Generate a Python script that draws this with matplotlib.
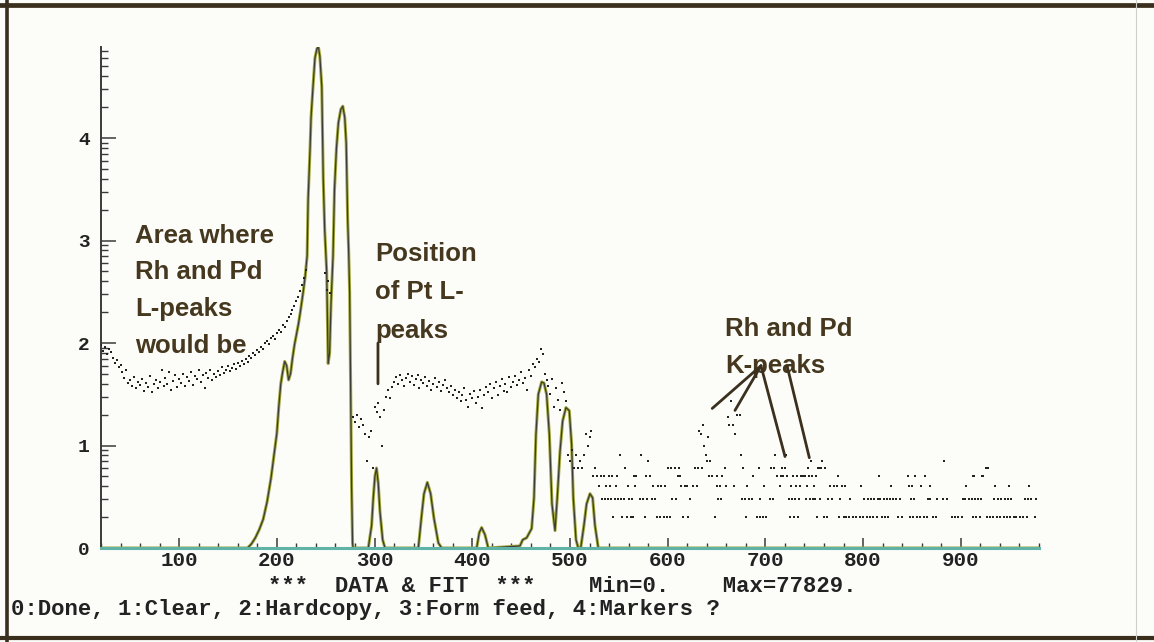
import numpy as np
import matplotlib
matplotlib.use("Agg")
import matplotlib.pyplot as plt
from matplotlib.lines import Line2D
from matplotlib.ticker import MultipleLocator, FixedLocator, FixedFormatter, StrMethodFormatter

# measured spectrum, every 2nd channel from 20 to 230
low_start = 20
low_counts = [96, 84, 92, 79, 88, 81, 71, 64, 68, 58,
              61, 52, 46, 55, 41, 44, 38, 47, 36, 42,
              39, 45, 34, 41, 37, 48, 33, 40, 44, 36,
              42, 55, 38, 46, 40, 52, 35, 43, 49, 37,
              45, 41, 50, 38, 47, 43, 52, 39, 48, 45,
              54, 42, 49, 36, 51, 46, 55, 44, 50, 47,
              53, 49, 58, 51, 55, 60, 53, 57, 62, 56,
              64, 60, 67, 63, 70, 66, 74, 71, 80, 76,
              86, 82, 92, 88, 99, 104, 97, 112, 118, 109,
              126, 135, 128, 150, 142, 165, 178, 190, 210, 232,
              255, 280, 320, 365, 430, 520]

# between the two big L lines
dip_ch = [249, 251, 252, 254]
dip_counts = [480, 330, 400, 310]

# every 2nd channel from 278 to 530
mid_start = 278
mid_counts = [19, 17, 20, 15, 18, 16, 13, 7, 12, 14,
              6, 24, 21, 26, 19, 10, 22, 30, 35, 29,
              37, 42, 47, 40, 49, 44, 38, 46, 50, 42,
              48, 39, 45, 49, 36, 44, 41, 47, 38, 43,
              35, 40, 46, 37, 42, 34, 39, 44, 36, 33,
              38, 31, 35, 29, 33, 27, 31, 36, 28, 24,
              32, 29, 34, 26, 30, 35, 23, 31, 37, 33,
              40, 29, 36, 42, 31, 38, 45, 34, 40, 33,
              47, 37, 42, 48, 39, 44, 52, 41, 46, 35,
              55, 48, 62, 58, 70, 66, 88, 79, 50, 44,
              38, 32, 45, 24, 36, 28, 22, 41, 33, 27,
              8, 7, 9, 6, 8, 6, 7, 6, 8, 13,
              10, 12, 14, 5, 6, 5, 4]

# high-energy tail: channels holding N counts (0 and 1 sit on the baseline)
tail_ch_2 = [544, 553, 558, 562, 565, 577, 589, 592, 596, 599, 602, 616, 621, 648,
             680, 691, 695, 698, 701, 725, 729, 733, 753, 760, 763, 775, 780, 783,
             786, 790, 793, 797, 800, 804, 807, 810, 814, 819, 822, 826, 836, 840,
             848, 851, 855, 858, 862, 865, 872, 875, 891, 894, 897, 901, 913, 916,
             920, 927, 930, 933, 937, 940, 944, 947, 950, 954, 957, 961, 964, 968, 976]
tail_ch_3 = [533, 536, 539, 542, 546, 549, 552, 555, 560, 563, 572, 575, 579, 584,
             587, 604, 609, 623, 652, 655, 676, 679, 683, 686, 694, 705, 708, 724,
             727, 730, 734, 742, 746, 749, 751, 756, 764, 768, 776, 787, 801, 805,
             808, 811, 815, 817, 821, 824, 828, 831, 834, 838, 849, 852, 866, 868,
             876, 882, 886, 902, 904, 908, 911, 915, 918, 921, 934, 938, 941, 945,
             948, 951, 966, 969, 972, 977]
tail_ch_4 = [537, 541, 547, 559, 567, 585, 590, 593, 597, 614, 618, 620, 626, 630,
             650, 654, 660, 668, 681, 699, 715, 726, 731, 735, 743, 750, 766, 770,
             773, 778, 782, 798, 829, 847, 850, 859, 869, 905, 935, 949, 970]
tail_ch_5 = [532, 535, 540, 543, 548, 566, 568, 578, 582, 611, 613, 642, 645, 651,
             656, 687, 712, 716, 718, 722, 728, 732, 736, 739, 741, 745, 748, 752,
             774, 816, 846, 853, 863, 912, 914, 922, 923]
tail_ch_6 = [556, 600, 603, 608, 612, 628, 631, 635, 659, 677, 693, 706, 709, 717,
             720, 744, 754, 755, 757, 761, 926, 928]
tail_ch_7 = [580, 643, 747, 758, 883]
tail_ch_8 = [551, 573, 675, 710, 721]

# Rh / Pd K region
k_ch = [632, 634, 636, 637, 639, 640, 641, 662, 663, 665, 667, 669, 671, 674]
k_counts = [14, 13, 16, 10, 8, 7, 12, 19, 16, 27, 16, 13, 20, 20]

# fitted spectrum, in decades (log10 counts)
fit_ch = [20, 170, 174, 178, 182, 186, 190, 194, 197, 200, 202, 204, 206, 208, 210,
          212, 214, 216, 218, 220, 222, 224, 227, 229, 231, 232, 234, 235, 237, 239,
          241, 242.5, 244, 246, 247.5, 249, 251, 252.5, 254, 255.5, 257.5, 259, 261,
          263, 265.5, 267.5, 269.5, 271, 272.5, 273.5, 274.5, 275.5, 276.5, 277.5, 278,
          293.6, 297, 298.7, 300.4, 302, 303.8, 305.5, 308.3, 310.7,
          344.8, 348.2, 350.6, 354, 357.4, 360.8, 365.3, 368.7,
          404.5, 407.2, 409.6, 413, 416.4,
          448.8, 451.6, 455.7, 460.8, 463.2, 465.2, 467.6, 471, 473.4, 476.1, 478.9,
          481.6, 484.7, 487, 489.8, 492.5, 495.9, 499.3, 501.7, 503.4, 506.2, 508.5,
          511, 514.3, 517, 520.5, 523.2, 525.6, 529, 980]
fit_dec = [0, 0, 0.04, 0.1, 0.18, 0.28, 0.45, 0.68, 0.9, 1.12, 1.38, 1.6, 1.72, 1.82, 1.78,
           1.64, 1.7, 1.85, 1.98, 2.08, 2.18, 2.3, 2.5, 2.65, 2.85, 3.4, 3.9, 4.2, 4.5, 4.78,
           4.87, 4.89, 4.8, 4.5, 3.6, 3.1, 2.7, 1.8, 1.9, 2.4, 2.85, 3.5, 3.9,
           4.15, 4.28, 4.31, 4.2, 3.95, 3.2, 2.9, 2.5, 1.6, 0.6, 0.05, 0,
           0, 0.22, 0.49, 0.70, 0.78, 0.63, 0.36, 0.08, 0,
           0, 0.32, 0.53, 0.64, 0.53, 0.29, 0.05, 0,
           0, 0.15, 0.20, 0.13, 0,
           0.02, 0.08, 0.10, 0.19, 0.49, 1.11, 1.5, 1.62, 1.61, 1.5, 1.11,
           0.43, 0.17, 0.49, 0.94, 1.24, 1.37, 1.34, 1.01, 0.49, 0.08, 0,
           0, 0.22, 0.43, 0.53, 0.49, 0.22, 0, 0]

max_counts = 77829
x_ticks = [100, 200, 300, 400, 500, 600, 700, 800, 900]
y_labels = ["0", "1", "2", "3", "4"]

ink = "#222222"
brown = "#45381f"
mono = "Liberation Mono"
sans = "Liberation Sans"

# assemble the dots
low_ch = low_start + 2 * np.arange(len(low_counts))
mid_ch = mid_start + 2 * np.arange(len(mid_counts))
tail_ch, tail_counts = [], []
for n, chans in [(2, tail_ch_2), (3, tail_ch_3), (4, tail_ch_4), (5, tail_ch_5),
                 (6, tail_ch_6), (7, tail_ch_7), (8, tail_ch_8)]:
    tail_ch += chans
    tail_counts += [n] * len(chans)
data_ch = np.concatenate([low_ch, dip_ch, mid_ch, tail_ch, k_ch])
data_counts = np.concatenate([low_counts, dip_counts, mid_counts, tail_counts, k_counts])
fit_counts = 10 ** np.array(fit_dec)

fig = plt.figure(figsize=(11.54, 6.42), dpi=100, facecolor="#fcfcf9")
ax = fig.add_axes([0.0875, 0.1464, 0.8128, 0.7809])
ax.set_facecolor("#fcfcf9")

ax.plot(fit_ch, fit_counts, color="#a3aa3c", lw=2.2, zorder=2)
ax.plot(fit_ch, fit_counts, color="#3c3c34", lw=0.9, zorder=2.1)
ax.plot(data_ch, data_counts, ls="none", marker="s", ms=2.0, mew=0, color=ink, zorder=3)

ax.set_yscale("log")
ax.set_xlim(20, 980)
ax.set_ylim(1, max_counts)

ax.xaxis.set_major_locator(FixedLocator(x_ticks))
ax.xaxis.set_major_formatter(StrMethodFormatter("{x:.0f}"))
ax.xaxis.set_minor_locator(MultipleLocator(20))
ax.yaxis.set_major_locator(FixedLocator([1, 10, 100, 1000, 10000]))
ax.yaxis.set_major_formatter(FixedFormatter(y_labels))
minor_y = [k * 10 ** e for e in range(5) for k in range(2, 10) if k * 10 ** e < max_counts]
ax.yaxis.set_minor_locator(FixedLocator(minor_y))
ax.yaxis.set_minor_formatter(FixedFormatter([""] * len(minor_y)))

for side in ["top", "right"]:
    ax.spines[side].set_visible(False)
ax.spines["left"].set_color("#3a3a3a")
ax.spines["left"].set_linewidth(1.4)
ax.spines["bottom"].set_color("#5fb3a6")
ax.spines["bottom"].set_linewidth(2.2)

ax.tick_params(axis="x", which="major", direction="in", length=7.5, width=1.1,
               color="#3a3a3a", pad=2.5, labelsize=15, labelcolor=ink)
ax.tick_params(axis="x", which="minor", direction="in", length=3.5, width=1.0, color="#3a3a3a")
ax.tick_params(axis="y", which="major", direction="in", length=11, width=1.1,
               color="#3a3a3a", pad=8, labelsize=14, labelcolor=ink)
ax.tick_params(axis="y", which="minor", direction="in", length=5, width=1.0, color="#3a3a3a")
for lab in ax.get_xticklabels() + ax.get_yticklabels():
    lab.set_fontfamily(mono)
    lab.set_fontweight("bold")

# annotations
txt = dict(family=sans, weight="bold", fontsize=18.5, color=brown, va="top", ha="left",
           transform=ax.transAxes)
ax.text(0.0362, 0.6464, "Area where\nRh and Pd\nL-peaks\nwould be", linespacing=1.66, **txt)
ax.text(0.2921, 0.6105, "Position\nof Pt L-\npeaks", linespacing=1.76, **txt)
ax.text(0.6652, 0.4608, "Rh and Pd\nK-peaks", linespacing=1.66, **txt)

pointer = dict(arrowstyle="-", color="#3b2f1e", lw=2.0, shrinkA=0, shrinkB=0)
ax.annotate("", xy=(303.5, 40), xytext=(303.5, 100), arrowprops=pointer)
for (x0, y0), (x1, y1) in [((695.5, 60), (645.6, 23)), ((695.5, 60), (668.9, 22)),
                           ((695.5, 60), (720.1, 7.8)), ((722.2, 60), (745.0, 7.6))]:
    ax.annotate("", xy=(x1, y1), xytext=(x0, y0), arrowprops=pointer)

# status lines under the plot
status = dict(family=mono, weight="bold", fontsize=16, color=ink, va="center", ha="left")
fig.text(268 / 1154, 1 - 586 / 642, "***  DATA & FIT  ***    Min=0.    Max=77829.", **status)
fig.text(11 / 1154, 1 - 609 / 642, "0:Done, 1:Clear, 2:Hardcopy, 3:Form feed, 4:Markers ?", **status)

# screen frame
frame = "#3a2e1c"
fig.add_artist(Line2D([0, 1], [1 - 5 / 642, 1 - 5 / 642], transform=fig.transFigure, color=frame, lw=3.4))
fig.add_artist(Line2D([6.5 / 1154, 6.5 / 1154], [0, 1], transform=fig.transFigure, color=frame, lw=2.6))
fig.add_artist(Line2D([0, 1], [4 / 642, 4 / 642], transform=fig.transFigure, color=frame, lw=3.0))
fig.add_artist(Line2D([1136 / 1154, 1136 / 1154], [0, 1], transform=fig.transFigure, color="#cfcfca", lw=0.8))

fig.savefig("out.png", dpi=100, facecolor=fig.get_facecolor())
